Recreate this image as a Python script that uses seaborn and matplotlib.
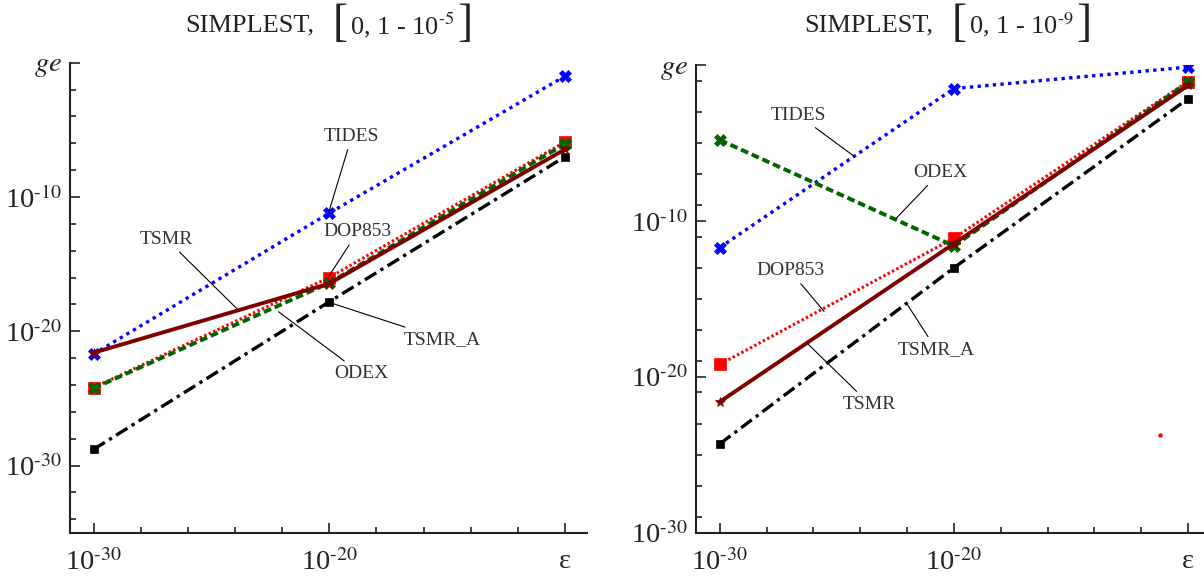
import numpy as np
import matplotlib
matplotlib.use('Agg')
import matplotlib.pyplot as plt
from matplotlib.ticker import NullFormatter
from matplotlib.offsetbox import TextArea, HPacker, AnchoredOffsetbox
import seaborn as sns

sns.set_style('white')
plt.rcParams['font.family'] = ['Liberation Serif', 'DejaVu Serif']
plt.rcParams['mathtext.fontset'] = 'stix'

# tolerance values on the x axis
eps = [1e-30, 1e-20, 1e-10]
methods = ['TIDES', 'TSMR_A', 'DOP853', 'ODEX', 'TSMR']

# log10 of the global error, interval [0, 1 - 1e-5]
left_tides = [-21.7, -11.2, -1.0]
left_tsmr_a = [-28.8, -17.8, -7.0]
left_dop853 = [-24.2, -16.0, -5.9]
left_odex = [-24.25, -16.4, -6.05]
left_tsmr = [-21.6, -16.45, -6.45]

# log10 of the global error, interval [0, 1 - 1e-9]
right_tides = [-11.7, -1.5, -0.12]
right_tsmr_a = [-24.3, -13.0, -2.15]
right_dop853 = [-19.2, -11.1, -1.05]
right_odex = [-4.8, -11.6, -1.1]
right_tsmr = [-21.6, -11.45, -1.3]

# lone red dot in the right panel
dot_x = [-11.2]
dot_y = [-23.7]

styles = {
    'TIDES':  dict(color='#0000ff', ls=(0, (1, 1.3)), lw=2.4, marker='X', ms=8),
    'TSMR_A': dict(color='#000000', ls=(0, (4, 1.5, 1, 1.5)), lw=2.4, marker='s', ms=6),
    'DOP853': dict(color='#ff0000', ls=(0, (0.8, 0.8)), lw=2.2, marker='s', ms=8),
    'ODEX':   dict(color='#006400', ls=(0, (2, 1)), lw=2.8, marker='X', ms=8),
    'TSMR':   dict(color='#800000', ls='-', lw=2.8, marker='*', ms=7),
}

# label text position and leader end, both as log10 (x, y)
left_notes = {
    'TIDES':  ((-19.05, -5.5), (-20.0, -11.0)),
    'DOP853': ((-18.8, -12.6), (-20.0, -15.85)),
    'TSMR':   ((-26.9, -13.15), (-23.86, -18.42)),
    'ODEX':   ((-18.65, -23.15), (-22.15, -18.55)),
    'TSMR_A': ((-15.2, -20.6), (-20.0, -17.85)),
}
right_notes = {
    'TIDES':  ((-26.65, -3.2), (-24.25, -5.86)),
    'ODEX':   ((-20.6, -6.9), (-22.47, -9.83)),
    'DOP853': ((-27.0, -13.2), (-25.55, -15.8)),
    'TSMR_A': ((-20.75, -18.25), (-21.99, -15.36)),
    'TSMR':   ((-23.6, -21.75), (-26.27, -17.84)),
}

ink = '#222222'


def pow_label(e):
    return r'10$^{\text{-}%d}$' % e


def draw_panel(ax, series, ybottom, xright, notes):
    ax.set_xscale('log')
    ax.set_yscale('log')
    for name in methods:
        st = styles[name]
        sns.lineplot(x=eps, y=10.0 ** np.array(series[name]), ax=ax,
                     color=st['color'], linestyle=st['ls'], lw=st['lw'],
                     marker=st['marker'], markersize=st['ms'],
                     markeredgecolor=st['color'], markeredgewidth=0.5)
    for name, (txt, end) in notes.items():
        ax.annotate(name, xy=(10.0 ** end[0], 10.0 ** end[1]),
                    xytext=(10.0 ** txt[0], 10.0 ** txt[1]),
                    ha='center', va='center', fontsize=14, color='#333333',
                    arrowprops=dict(arrowstyle='-', color='black', lw=0.8,
                                    shrinkA=1, shrinkB=0))
    ax.set_xlim(1e-31, 10.0 ** xright)
    ax.set_ylim(10.0 ** ybottom, 1.0)
    ax.set_xticks(eps, [pow_label(30), pow_label(20), 'ε'])
    ax.set_xticks([10.0 ** e for e in range(-28, int(xright), 2) if e % 10], minor=True)
    ax.set_yticks([1e-30, 1e-20, 1e-10, 1.0],
                  [pow_label(30), pow_label(20), pow_label(10), r'$ge$'])
    ax.set_yticks([10.0 ** e for e in range(ybottom + 1, 0, 2) if e % 10 and e > ybottom], minor=True)
    ax.xaxis.set_minor_formatter(NullFormatter())
    ax.yaxis.set_minor_formatter(NullFormatter())
    ax.tick_params(which='both', direction='in', width=1.2, color=ink,
                   bottom=True, left=True, labelsize=20.5, labelcolor=ink)
    ax.tick_params(axis='x', which='major', length=7, pad=12)
    ax.tick_params(axis='y', which='major', length=7, pad=6)
    ax.tick_params(which='minor', length=4)
    ax.set_xlabel('')
    ax.set_ylabel('')
    sns.despine(ax=ax)
    for side in ['left', 'bottom']:
        ax.spines[side].set_linewidth(1.5)
        ax.spines[side].set_color(ink)


def add_title(fig, xc, exponent):
    head = TextArea('SIMPLEST,', textprops=dict(fontsize=19, color=ink))
    inner = HPacker(children=[
        TextArea('[', textprops=dict(fontsize=33, color=ink)),
        TextArea(r'0, 1 - 10$^{\text{-}%d}$' % exponent, textprops=dict(fontsize=19, color=ink)),
        TextArea(']', textprops=dict(fontsize=33, color=ink)),
    ], align='center', pad=0, sep=2)
    box = HPacker(children=[head, inner], align='center', pad=0, sep=13)
    anchored = AnchoredOffsetbox(loc='center', child=box, pad=0, borderpad=0, frameon=False,
                                 bbox_to_anchor=(xc, 1 - 25 / 579),
                                 bbox_transform=fig.transFigure)
    fig.add_artist(anchored)


fig = plt.figure(figsize=(12.04, 5.79), dpi=100)
ax1 = fig.add_axes([0.0581, 0.080, 0.4294, 0.8117])
ax2 = fig.add_axes([0.5784, 0.080, 0.4216, 0.8074])

left = dict(zip(methods, [left_tides, left_tsmr_a, left_dop853, left_odex, left_tsmr]))
right = dict(zip(methods, [right_tides, right_tsmr_a, right_dop853, right_odex, right_tsmr]))

draw_panel(ax1, left, -35, -9.07, left_notes)
draw_panel(ax2, right, -30, -9.32, right_notes)
sns.scatterplot(x=10.0 ** np.array(dot_x), y=10.0 ** np.array(dot_y), ax=ax2,
                color='red', s=10, linewidth=0)
ax2.set_xlabel('')
ax2.set_ylabel('')

add_title(fig, 329 / 1204, 5)
add_title(fig, 948 / 1204, 9)

fig.savefig('out.png', dpi=100)
